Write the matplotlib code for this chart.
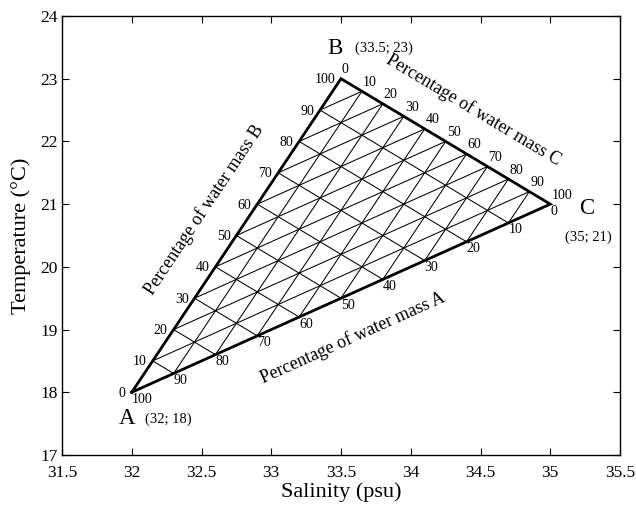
import numpy as np
import matplotlib
matplotlib.use("Agg")
import matplotlib.pyplot as plt

# end-member water masses (salinity, temperature)
names = ["A", "B", "C"]
salinity = [32.0, 33.5, 35.0]
temperature = [18.0, 23.0, 21.0]
coord_labels = ["(32; 18)", "(33.5; 23)", "(35; 21)"]
percents = [0, 10, 20, 30, 40, 50, 60, 70, 80, 90, 100]

xticks = [31.5, 32, 32.5, 33, 33.5, 34, 34.5, 35, 35.5]
xticklabels = ["31.5", "32", "32.5", "33", "33.5", "34", "34.5", "35", "35.5"]
yticks = [17, 18, 19, 20, 21, 22, 23, 24]

plt.rcParams['font.family'] = ['Liberation Serif', 'DejaVu Serif']

fig = plt.figure(figsize=(6.36, 5.07), dpi=100)
ax = fig.add_axes([62 / 636, 1 - 455 / 507, 558 / 636, 439 / 507])
ax.set_xlim(31.5, 35.5)
ax.set_ylim(17, 24)
ax.set_xticks(xticks)
ax.set_xticklabels(xticklabels)
ax.set_yticks(yticks)
ax.tick_params(direction='in', top=True, right=True, length=5, width=0.8,
               labelsize=12.5)
ax.tick_params(axis='x', pad=7)
ax.tick_params(axis='y', pad=3)
for s in ax.spines.values():
    s.set_linewidth(1.0)
ax.set_xlabel("Salinity (psu)", fontsize=16, labelpad=1)
ax.set_ylabel("Temperature (°C)", fontsize=16, labelpad=7)

V = [np.array([s, t]) for s, t in zip(salinity, temperature)]

# mixing grid, 10 % steps
for f in percents[1:-1]:
    a = f / 100
    for i, j, k in [(0, 1, 2), (1, 0, 2), (2, 0, 1)]:
        p1 = a * V[i] + (1 - a) * V[j]
        p2 = a * V[i] + (1 - a) * V[k]
        ax.plot([p1[0], p2[0]], [p1[1], p2[1]], color='k', lw=0.75)

# triangle edges
tri_s = salinity + [salinity[0]]
tri_t = temperature + [temperature[0]]
ax.plot(tri_s, tri_t, color='k', lw=2.0, solid_joinstyle='miter')

fig.canvas.draw()
D = [ax.transData.transform(v) for v in V]

# edge scale labels: (start, end, ha, offset px)
edges = [(0, 1, 'right', (-6, -1)),   # % of B along A->B
         (1, 2, 'left', (1, 9)),      # % of C along B->C
         (2, 0, 'left', (0, -7))]     # % of A along C->A
for i, j, ha, off in edges:
    for f in percents:
        p = V[i] + f / 100 * (V[j] - V[i])
        ax.annotate(str(f), xy=p, xytext=off, textcoords='offset pixels',
                    ha=ha, va='center', fontsize=10)

# edge titles: (start, end, fraction, perpendicular px, text)
titles = [(0, 1, 0.51, 41, "Percentage of water mass B"),
          (1, 2, 0.532, 41, "Percentage of water mass C"),
          (0, 2, 0.488, -41, "Percentage of water mass A")]
for i, j, frac, perp, txt in titles:
    d = D[j] - D[i]
    ang = np.degrees(np.arctan2(d[1], d[0]))
    n = np.array([-d[1], d[0]]) / np.hypot(*d)
    p = V[i] + frac * (V[j] - V[i])
    ax.annotate(txt, xy=p, xytext=n * perp, textcoords='offset pixels',
                ha='center', va='center', rotation=ang, fontsize=13,
                rotation_mode='anchor')

# vertex names and coordinates
name_off = [(-5, -26), (-6, 30), (36, -4)]
coord_off = [(37, -27), (43, 30), (38, -33)]
for k in range(3):
    ax.annotate(names[k], xy=V[k], xytext=name_off[k], textcoords='offset pixels',
                ha='center', va='center', fontsize=16.5)
    ax.annotate(coord_labels[k], xy=V[k], xytext=coord_off[k],
                textcoords='offset pixels', ha='center', va='center', fontsize=10.5)

fig.savefig("out.png", dpi=100)
